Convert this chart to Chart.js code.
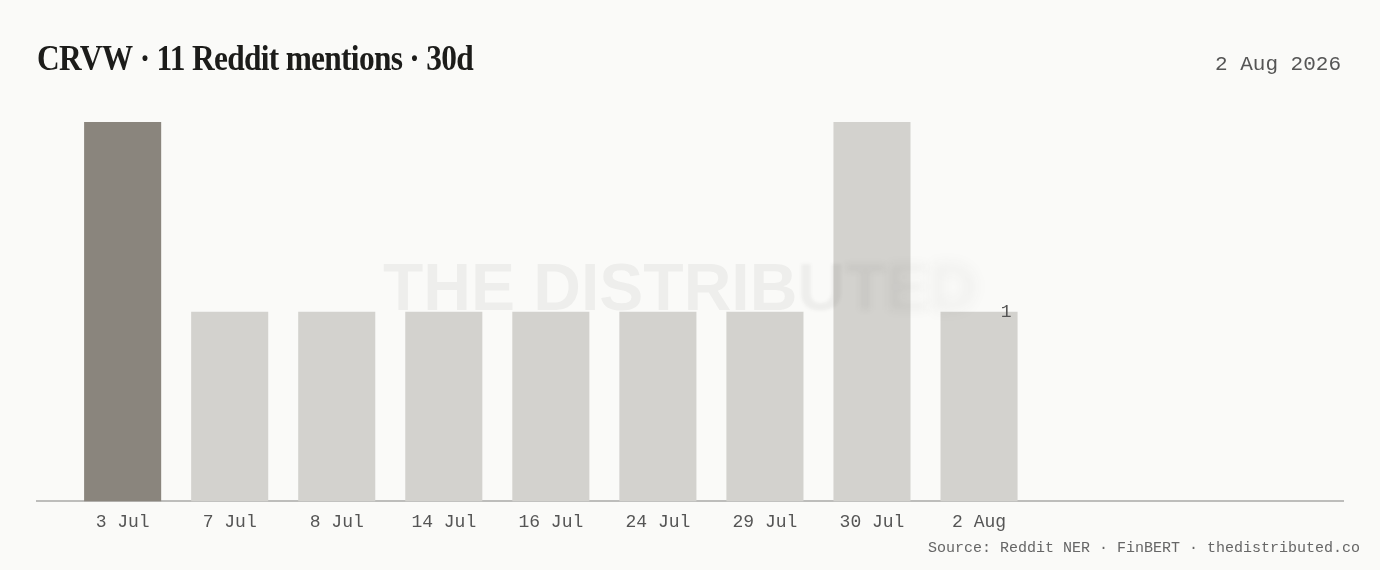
<!DOCTYPE html>
<html>
<head>
<meta charset="utf-8">
<script src="https://cdn.jsdelivr.net/npm/chart.js@4/dist/chart.umd.min.js"></script>
<style>
  html,body{margin:0;padding:0;background:#fafaf8;}
  #wrap{width:1380px;height:570px;position:relative;}
</style>
</head>
<body>
<div id="wrap"><canvas id="c" width="1380" height="570"></canvas></div>
<script>
// data
const labels = ['3 Jul','7 Jul','8 Jul','14 Jul','16 Jul','24 Jul','29 Jul','30 Jul','2 Aug'];
const mentions = [2,1,1,1,1,1,1,2,1];
const highlight = [true,false,false,false,false,false,false,false,false];
const yTicks = [0,1,2];

const titleText = 'CRVW \u00b7 11 Reddit mentions \u00b7 30d';
const dateText = '2 Aug 2026';
const sourceText = 'Source: Reddit NER \u00b7 FinBERT \u00b7 thedistributed.co';
const watermark = 'THE DISTRIBUTED';

const MONO = '"Liberation Mono", "DejaVu Sans Mono", monospace';

function $(id){return document.getElementById(id)}

// header, footer, watermark and the last-bar value label
const decor = {
  id:'decor',
  beforeDraw(chart){
    const ctx = chart.ctx;
    ctx.save();
    ctx.fillStyle = '#fafaf8';
    ctx.fillRect(0,0,chart.width,chart.height);
    ctx.restore();
  },
  afterDatasetsDraw(chart){
    const ctx = chart.ctx, a = chart.chartArea;
    // watermark over the bars, right end fading out
    ctx.save();
    ctx.font = 'bold 66px "Liberation Sans", Arial, sans-serif';
    ctx.textBaseline = 'alphabetic';
    ctx.fillStyle = 'rgba(40,40,30,0.055)';
    const total = ctx.measureText(watermark).width;
    let x = (a.left + a.right)/2 - 10 - total/2;
    const y = a.top + 188;
    for(let i=0;i<watermark.length;i++){
      const ch = watermark[i];
      const blur = i>=11 ? (i-10)*1.6 : 0;
      ctx.filter = blur ? 'blur('+blur+'px)' : 'none';
      ctx.fillText(ch,x,y);
      x += ctx.measureText(ch).width;
    }
    ctx.restore();

    // value label on the latest bar
    const meta = chart.getDatasetMeta(0);
    const last = meta.data[meta.data.length-1];
    ctx.save();
    ctx.font = '18px ' + MONO;
    ctx.fillStyle = '#555';
    ctx.textAlign = 'right';
    ctx.textBaseline = 'middle';
    ctx.fillText(String(mentions[mentions.length-1]), last.x + last.width/2 - 6, last.y + 1);
    ctx.restore();
  },
  afterDraw(chart){
    const ctx = chart.ctx, a = chart.chartArea;
    ctx.save();
    // title, squeezed to the display-serif width
    ctx.font = 'bold 36px "Liberation Serif", "DejaVu Serif", serif';
    ctx.letterSpacing = '-0.8px';
    ctx.fillStyle = '#1c1c1a';
    ctx.textBaseline = 'alphabetic';
    const w = ctx.measureText(titleText).width;
    const sx = 436 / w;
    ctx.translate(a.left, 70);
    ctx.scale(sx,1);
    ctx.fillText(titleText,0,0);
    ctx.restore();

    ctx.save();
    ctx.font = '21px ' + MONO;
    ctx.fillStyle = '#555';
    ctx.textAlign = 'right';
    ctx.textBaseline = 'alphabetic';
    ctx.fillText(dateText, a.right - 2, 70);
    ctx.font = '15px ' + MONO;
    ctx.fillStyle = '#666';
    ctx.fillText(sourceText, chart.width - 20, 552);
    ctx.restore();
  }
};

const chart = new Chart($('c').getContext('2d'),{
  type:'bar',
  data:{
    datasets:[{
      data: mentions.map((v,i)=>({x:i,y:v})),
      backgroundColor: highlight.map(h=> h ? '#8a857d' : '#d3d2ce'),
      borderWidth:0,
      categoryPercentage:0.9,
      barPercentage:1.0
    }]
  },
  options:{
    responsive:false,
    animation:false,
    events:[],
    layout:{padding:{left:37,right:37,top:122,bottom:35}},
    plugins:{legend:{display:false},tooltip:{enabled:false},title:{display:false}},
    scales:{
      x:{
        type:'linear',
        offset:false,
        min:-0.8,
        max:11.4,
        grid:{display:false},
        border:{display:true,color:'#bdbdbb',width:2},
        ticks:{
          stepSize:1,
          autoSkip:false,
          maxRotation:0,
          padding:2,
          color:'#555',
          font:{family:MONO,size:18},
          callback:(v)=> Number.isInteger(v) && labels[v] !== undefined ? labels[v] : ''
        }
      },
      y:{
        display:false,
        min:yTicks[0],
        max:yTicks[yTicks.length-1]
      }
    }
  },
  plugins:[decor]
});
</script>
</body>
</html>
